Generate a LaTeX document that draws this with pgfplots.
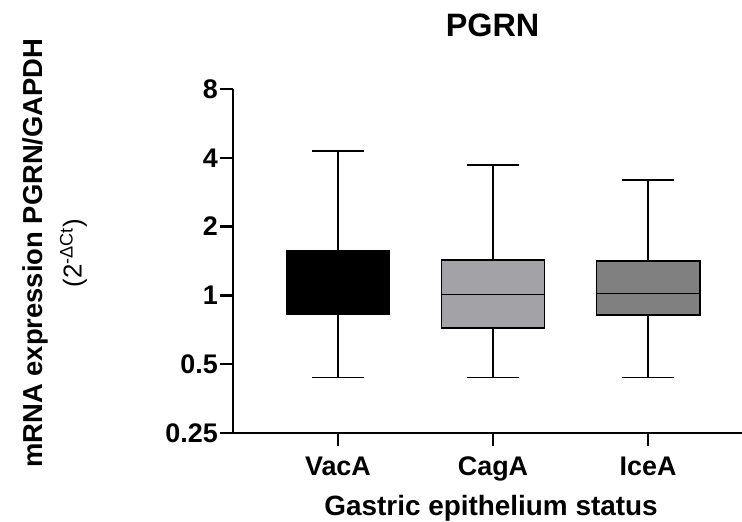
\documentclass[border=0pt]{standalone}
\usepackage{fontspec}
\setmainfont{Liberation Sans}
\usepackage{pgfplots}
\pgfplotsset{compat=1.18}
\usepgfplotslibrary{statistics}
\definecolor{cagfill}{RGB}{163,162,167}
\definecolor{icefill}{RGB}{128,128,128}

\begin{document}
\begin{tikzpicture}[x=1bp,y=1bp]
\path[use as bounding box] (-233,-89) rectangle (509,433);
\begin{axis}[
  at={(0,0)}, anchor=south west,
  width=509bp, height=344bp, scale only axis,
  ymode=log, log basis y=2,
  ymin=0.25, ymax=8, xmin=-0.677, xmax=2.606,
  ytick={0.25,0.5,1,2,4,8}, yticklabels={0.25,0.5,1,2,4,8},
  xtick={0,1,2}, xticklabels={VacA,CagA,IceA},
  axis x line*=bottom, axis y line*=left,
  axis line style={-, line width=2.6bp},
  tick align=outside, major tick length=13bp,
  tick style={line width=2.4bp, black},
  minor tick num=0,
  ticklabel style={font=\fontsize{27}{32}\selectfont\bfseries},
  xticklabel style={anchor=base, yshift=-30bp},
  yticklabel style={inner sep=2bp},
  title={PGRN},
  title style={font=\fontsize{32.5}{38}\selectfont\bfseries,
    at={(axis description cs:0.51,1.1346)}, anchor=base},
  xlabel={Gastric epithelium status},
  xlabel style={font=\fontsize{28}{33}\selectfont\bfseries,
    at={(axis description cs:0.507,-0.2384)}, anchor=base},
  ylabel={{\bfseries mRNA expression PGRN/GAPDH}\\{\fontsize{26}{38}\selectfont (2\textsuperscript{-ΔCt})}},
  ylabel style={font=\fontsize{27.5}{39}\selectfont, align=center,
    at={(axis description cs:-0.3497,0.523)}, anchor=center},
  boxplot/draw direction=y,
  clip=false,
]
% VacA
\addplot[boxplot prepared={draw position=0,
  lower whisker=0.437, lower quartile=0.83, median=1.08,
  upper quartile=1.56, upper whisker=4.29,
  box extend=0.665, whisker extend=0.33},
  fill=black, draw=black, line width=1.8bp] coordinates {};
% CagA
\addplot[boxplot prepared={draw position=1,
  lower whisker=0.437, lower quartile=0.72, median=1.01,
  upper quartile=1.43, upper whisker=3.73,
  box extend=0.665, whisker extend=0.33},
  fill=cagfill, draw=black, line width=1.8bp] coordinates {};
% IceA
\addplot[boxplot prepared={draw position=2,
  lower whisker=0.437, lower quartile=0.82, median=1.02,
  upper quartile=1.41, upper whisker=3.21,
  box extend=0.665, whisker extend=0.33},
  fill=icefill, draw=black, line width=1.8bp] coordinates {};
\end{axis}
\end{tikzpicture}
\end{document}
